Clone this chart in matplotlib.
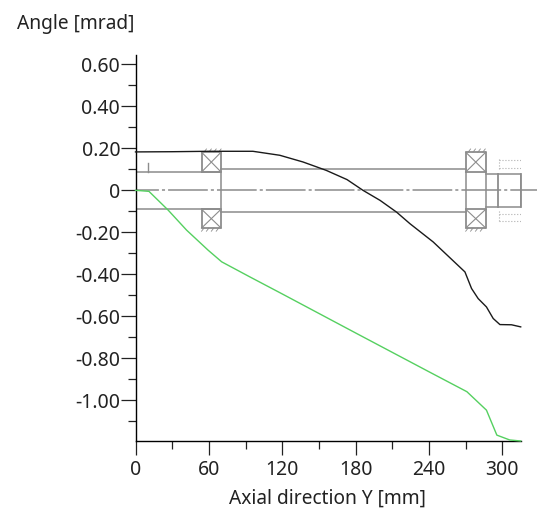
import numpy as np
from matplotlib import pyplot as plt

plt.rcParams['font.family'] = ['Noto Sans', 'DejaVu Sans']

# curves
black_x = [0, 30, 60, 96, 118, 137, 156, 173, 186, 200, 213.5, 224.4, 243.4, 269.4, 274.8, 280.2, 287, 292.5, 298, 307.5, 315]
black_y = [0.183, 0.184, 0.186, 0.186, 0.167, 0.135, 0.095, 0.051, 0, -0.048, -0.104, -0.159, -0.246, -0.389, -0.468, -0.516, -0.556, -0.611, -0.64, -0.641, -0.651]
green_x = [0, 11, 26.8, 41.8, 59.5, 70.5, 93.6, 120, 180, 240, 271, 287, 295.5, 306, 315]
green_y = [0, -0.005, -0.095, -0.19, -0.286, -0.341, -0.413, -0.494, -0.68, -0.865, -0.96, -1.048, -1.167, -1.19, -1.195]

# shaft drawing behind the curves
shaft1_x = [0, 70, 70, 0]
shaft1_y = [0.087, 0.087, -0.09, -0.09]
shaft2_x = [70, 270]
shaft2_y = [0.10, -0.103]
bearings_x = [(54, 70), (270, 286.5)]
bearing_top = (0.087, 0.182)
bearing_bot = (-0.09, -0.18)
end_x = [286.5, 296.5, 315, 315, 296.5, 286.5]
end_y = [0.08, 0.08, 0.08, -0.08, -0.08, -0.08]

xticks = [0, 60, 120, 180, 240, 300]
xminor = [30, 90, 150, 210, 270]
yticks = [0.6, 0.4, 0.2, 0, -0.2, -0.4, -0.6, -0.8, -1.0]
yminor = [0.5, 0.3, 0.1, -0.1, -0.3, -0.5, -0.7, -0.9, -1.1]
ylabels = ['0.60', '0.40', '0.20', '0', '-0.20', '-0.40', '-0.60', '-0.80', '-1.00']

W = 537; H = 514
fig = plt.figure(figsize=(W/100, H/100), dpi=100)
ax = fig.add_axes([135.5/W, 1-441/H, 385.2/W, 386/H])
ax.set_xlim(0, 315)
ax.set_ylim(-1.195, 0.645)
grey = '#8c8c8c'

# shaft
ax.plot(shaft1_x, shaft1_y, color=grey, lw=1.1)
for y in shaft2_y:
    ax.plot(shaft2_x, [y, y], color=grey, lw=1.1)
ax.plot([10, 10], [0.087, 0.13], color=grey, lw=1)
ax.plot([0, 328], [0, 0], color=grey, lw=1.1, ls=(11, (26, 2, 2, 2)), clip_on=False)

for x0, x1 in bearings_x:
    for y0, y1 in [bearing_top, bearing_bot]:
        ax.plot([x0, x1, x1, x0, x0], [y0, y0, y1, y1, y0], color=grey, lw=1.3)
        ax.plot([x0, x1], [y0, y1], color=grey, lw=0.8)
        ax.plot([x0, x1], [y1, y0], color=grey, lw=0.8)

    # bearing seat hatching
    for xh in np.arange(x0+2, x1, 4):
        ax.plot([xh, xh+2], [0.182, 0.197], color=grey, lw=0.6)
        ax.plot([xh, xh-2], [-0.18, -0.195], color=grey, lw=0.6)

ax.plot([270, 270], [0.087, -0.09], color=grey, lw=1.1)
ax.plot([286.5, 286.5], [0.087, -0.09], color=grey, lw=1.1)

ax.plot(end_x, end_y, color=grey, lw=1.1)
ax.plot([296.5, 296.5], [0.08, -0.08], color=grey, lw=1.3)
ax.plot([315, 315], [0.08, -0.08], color=grey, lw=1.3, clip_on=False)
for y0 in [0.145, 0.105, -0.115, -0.145]:
    ax.plot([297, 315], [y0, y0], color='#b0b0b0', lw=0.8, ls=':')
ax.plot([297, 297], [0.15, 0.1], color='#b0b0b0', lw=0.8, ls=':')
ax.plot([297, 297], [-0.1, -0.15], color='#b0b0b0', lw=0.8, ls=':')

# curves
ax.plot(black_x, black_y, color='#1a1a1a', lw=1, clip_on=False, zorder=5)
ax.plot(green_x, green_y, color='#55d060', lw=1, clip_on=False, zorder=5)

ax.spines['top'].set_visible(False)
ax.spines['right'].set_visible(False)
ax.spines['left'].set_linewidth(1)
ax.spines['bottom'].set_linewidth(1)
ax.set_xticks(xticks)
ax.set_xticks(xminor, minor=True)
ax.set_yticks(yticks)
ax.set_yticklabels(ylabels)
ax.set_yticks(yminor, minor=True)
ax.tick_params(axis='x', which='major', length=10, width=0.9, labelsize=14, pad=3.5, colors='#222222')
ax.tick_params(axis='y', which='major', length=11, width=0.9, labelsize=14, pad=0, colors='#222222')
ax.tick_params(which='minor', length=6, width=0.9, color='#222222')

fig.text(327/W, 1-499/H, 'Axial direction Y [mm]', fontsize=13.8, ha='center', va='center', color='#222222')
fig.text(17/W, 1-24/H, 'Angle [mrad]', fontsize=13.8, ha='left', va='center', color='#222222')

plt.savefig('out.png', dpi=100)
